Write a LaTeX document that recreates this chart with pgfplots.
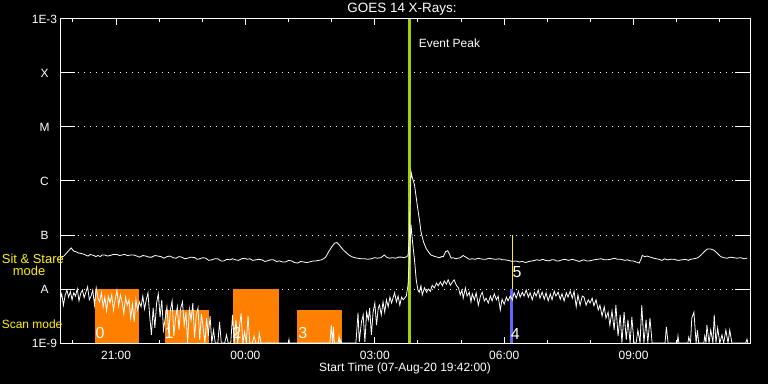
\documentclass[border=0pt]{standalone}
\usepackage{fontspec}
\setmainfont{Liberation Sans}
\usepackage{pgfplots}
\usepackage{pgfplotstable}
\pgfplotsset{compat=1.18}
\definecolor{scanorange}{RGB}{255,128,0}
\definecolor{peakgreen}{RGB}{160,210,0}
\definecolor{scanblue}{RGB}{100,100,255}

% long channel (hours since 00:00 on 07-Aug, log10 flux)
\pgfplotstableread{
h y
19.72 -7.41
19.79 -7.39
19.89 -7.30
19.96 -7.24
20.02 -7.30
20.07 -7.31
20.12 -7.33
20.18 -7.34
20.23 -7.35
20.29 -7.37
20.35 -7.39
20.40 -7.36
20.44 -7.37
20.49 -7.38
20.53 -7.40
20.58 -7.38
20.63 -7.40
20.68 -7.37
20.74 -7.37
20.80 -7.39
20.86 -7.38
20.94 -7.36
21.02 -7.36
21.08 -7.38
21.14 -7.37
21.20 -7.36
21.27 -7.38
21.34 -7.37
21.41 -7.37
21.48 -7.39
21.55 -7.41
21.62 -7.38
21.69 -7.39
21.76 -7.41
21.83 -7.41
21.90 -7.38
21.97 -7.39
22.04 -7.40
22.11 -7.43
22.18 -7.40
22.25 -7.39
22.32 -7.42
22.39 -7.43
22.46 -7.40
22.52 -7.41
22.59 -7.44
22.66 -7.43
22.74 -7.41
22.83 -7.42
22.88 -7.45
22.94 -7.44
23.01 -7.42
23.08 -7.43
23.15 -7.47
23.22 -7.46
23.29 -7.44
23.36 -7.44
23.43 -7.48
23.50 -7.48
23.57 -7.45
23.64 -7.46
23.70 -7.44
23.77 -7.46
23.84 -7.47
23.91 -7.44
23.98 -7.43
24.04 -7.45
24.10 -7.44
24.17 -7.47
24.24 -7.46
24.31 -7.45
24.38 -7.46
24.45 -7.49
24.51 -7.48
24.58 -7.46
24.65 -7.46
24.72 -7.49
24.79 -7.48
24.86 -7.50
24.93 -7.50
25.00 -7.47
25.07 -7.48
25.14 -7.51
25.21 -7.52
25.28 -7.49
25.35 -7.50
25.42 -7.51
25.49 -7.50
25.56 -7.48
25.63 -7.48
25.70 -7.47
25.76 -7.46
25.81 -7.44
25.86 -7.41
25.93 -7.31
26.00 -7.22
26.07 -7.15
26.12 -7.14
26.18 -7.19
26.25 -7.26
26.30 -7.30
26.34 -7.33
26.40 -7.37
26.46 -7.40
26.53 -7.42
26.60 -7.43
26.68 -7.44
26.76 -7.44
26.84 -7.45
26.92 -7.44
26.99 -7.42
27.06 -7.43
27.14 -7.42
27.19 -7.39
27.22 -7.37
27.27 -7.41
27.34 -7.43
27.41 -7.42
27.48 -7.43
27.55 -7.41
27.62 -7.41
27.68 -7.42
27.74 -7.40
27.77 -7.38
27.80 -7.05
27.82 -6.35
27.84 -5.83
27.87 -5.94
27.92 -6.07
27.99 -6.48
28.04 -6.75
28.07 -6.94
28.13 -7.13
28.19 -7.25
28.25 -7.32
28.30 -7.37
28.40 -7.40
28.50 -7.42
28.55 -7.40
28.59 -7.40
28.64 -7.31
28.69 -7.29
28.73 -7.35
28.77 -7.43
28.82 -7.42
28.87 -7.44
28.93 -7.43
28.98 -7.42
29.05 -7.38
29.11 -7.41
29.19 -7.45
29.26 -7.44
29.33 -7.45
29.39 -7.43
29.45 -7.44
29.52 -7.45
29.58 -7.45
29.64 -7.43
29.70 -7.44
29.80 -7.45
29.89 -7.44
29.96 -7.46
30.02 -7.46
30.10 -7.47
30.19 -7.49
30.27 -7.48
30.35 -7.50
30.42 -7.49
30.50 -7.51
30.57 -7.49
30.65 -7.48
30.71 -7.47
30.76 -7.46
30.83 -7.47
30.89 -7.45
30.96 -7.47
31.04 -7.48
31.10 -7.46
31.16 -7.46
31.22 -7.48
31.27 -7.48
31.34 -7.46
31.41 -7.45
31.49 -7.47
31.58 -7.45
31.66 -7.47
31.74 -7.49
31.80 -7.47
31.85 -7.46
31.91 -7.48
31.97 -7.48
32.03 -7.47
32.08 -7.46
32.16 -7.45
32.25 -7.44
32.32 -7.46
32.39 -7.46
32.47 -7.45
32.55 -7.43
32.63 -7.45
32.71 -7.45
32.79 -7.47
32.86 -7.46
32.93 -7.48
32.99 -7.48
33.06 -7.50
33.13 -7.52
33.17 -7.45
33.20 -7.38
33.26 -7.40
33.31 -7.39
33.39 -7.41
33.47 -7.43
33.53 -7.44
33.59 -7.45
33.66 -7.47
33.72 -7.44
33.78 -7.46
33.86 -7.45
33.94 -7.45
34.03 -7.47
34.12 -7.46
34.20 -7.45
34.27 -7.47
34.32 -7.45
34.40 -7.44
34.46 -7.43
34.51 -7.41
34.58 -7.36
34.65 -7.30
34.71 -7.26
34.79 -7.26
34.86 -7.28
34.93 -7.33
35.02 -7.40
35.09 -7.42
35.17 -7.43
35.25 -7.41
35.32 -7.42
35.40 -7.43
35.48 -7.42
35.56 -7.44
35.63 -7.43
}\longchan

% short channel
\pgfplotstableread{
h y
19.70 -8.20
19.74 -8.09
19.78 -8.30
19.82 -8.11
19.86 -8.02
19.90 -8.15
19.94 -8.05
19.98 -8.20
20.02 -8.07
20.06 -8.13
20.10 -8.00
20.14 -8.22
20.18 -8.08
20.22 -8.02
20.26 -8.16
20.30 -8.06
20.34 -7.96
20.38 -8.20
20.42 -8.13
20.46 -8.02
20.50 -8.30
20.54 -7.98
20.58 -8.17
20.62 -8.24
20.66 -8.07
20.70 -8.33
20.74 -8.15
20.78 -8.41
20.82 -8.13
20.86 -8.26
20.90 -8.11
20.94 -8.39
20.98 -8.19
21.02 -8.02
21.06 -8.31
21.10 -8.11
21.14 -8.24
21.18 -8.46
21.22 -8.15
21.26 -8.30
21.30 -8.20
21.34 -8.54
21.38 -8.28
21.42 -8.61
21.46 -8.20
21.50 -8.39
21.54 -8.24
21.58 -8.33
21.62 -8.13
21.66 -8.37
21.70 -8.20
21.74 -8.07
21.78 -8.50
21.82 -8.85
21.86 -8.35
21.90 -8.72
21.94 -8.26
21.98 -8.09
22.02 -8.52
22.06 -8.20
22.10 -8.76
22.14 -8.54
22.18 -8.33
22.22 -8.81
22.26 -8.39
22.30 -8.22
22.34 -8.87
22.38 -8.54
22.42 -8.33
22.46 -8.76
22.50 -8.35
22.54 -8.24
22.58 -8.67
22.62 -8.43
22.66 -9.00
22.70 -8.37
22.74 -8.57
22.78 -8.26
22.82 -8.91
22.86 -8.48
22.90 -8.35
22.94 -8.94
22.98 -8.46
23.02 -8.72
23.06 -9.00
23.10 -8.54
23.14 -8.87
23.18 -8.50
23.22 -9.00
23.26 -8.76
23.30 -9.00
23.36 -9.00
23.40 -8.61
23.44 -9.00
23.52 -9.00
23.56 -8.85
23.60 -9.00
23.66 -9.00
23.70 -8.48
23.74 -9.00
23.78 -8.57
23.82 -9.00
23.86 -8.70
23.90 -8.45
23.94 -9.00
23.98 -8.80
24.02 -9.00
24.06 -8.50
24.10 -9.00
24.16 -9.00
24.20 -8.87
24.24 -9.00
24.30 -9.00
24.32 -8.81
24.36 -9.00
25.00 -9.00
25.01 -8.94
25.02 -9.00
25.96 -9.00
25.99 -8.67
26.02 -9.00
26.04 -8.70
26.06 -9.00
26.15 -9.00
26.17 -8.88
26.19 -9.00
26.21 -8.94
26.23 -9.00
26.56 -9.00
26.58 -8.80
26.61 -8.44
26.64 -8.98
26.69 -8.61
26.73 -8.48
26.77 -8.98
26.81 -8.43
26.85 -8.57
26.88 -8.35
26.92 -8.85
26.96 -8.43
27.00 -8.26
27.04 -8.67
27.08 -8.35
27.11 -8.30
27.15 -8.48
27.19 -8.24
27.23 -8.43
27.27 -8.20
27.31 -8.33
27.35 -8.15
27.39 -8.26
27.42 -8.17
27.46 -8.07
27.50 -8.24
27.54 -8.13
27.58 -8.30
27.62 -8.15
27.66 -8.20
27.69 -8.17
27.73 -8.13
27.77 -7.93
27.84 -6.81
27.87 -7.09
27.92 -7.46
27.96 -7.83
28.00 -8.02
28.03 -8.06
28.07 -7.94
28.10 -8.11
28.15 -7.98
28.20 -8.06
28.24 -8.00
28.29 -8.04
28.33 -7.93
28.38 -7.98
28.43 -7.89
28.47 -7.94
28.52 -7.87
28.57 -7.94
28.61 -7.85
28.66 -7.91
28.70 -7.83
28.75 -7.93
28.80 -7.87
28.84 -7.83
28.89 -7.93
28.94 -7.98
28.98 -8.11
29.02 -8.02
29.05 -8.17
29.10 -7.98
29.14 -8.13
29.19 -8.06
29.23 -8.24
29.26 -8.09
29.31 -8.20
29.35 -8.07
29.40 -8.30
29.45 -8.13
29.49 -8.06
29.54 -8.22
29.58 -8.17
29.63 -8.26
29.68 -8.13
29.72 -8.22
29.77 -8.09
29.82 -8.20
29.86 -8.13
29.91 -8.39
29.95 -8.19
30.00 -8.28
30.05 -8.15
30.09 -8.22
30.14 -8.13
30.19 -8.20
30.23 -8.07
30.28 -8.17
30.33 -8.04
30.37 -8.15
30.42 -8.06
30.46 -8.13
30.51 -8.02
30.56 -8.15
30.60 -8.07
30.65 -8.20
30.70 -8.06
30.74 -8.13
30.79 -8.02
30.83 -8.17
30.88 -8.06
30.93 -8.19
30.97 -8.07
31.02 -8.22
31.07 -8.09
31.11 -8.20
31.16 -8.04
31.20 -8.13
31.25 -8.06
31.30 -8.19
31.34 -8.09
31.39 -8.22
31.44 -8.07
31.48 -8.15
31.53 -8.04
31.58 -8.17
31.62 -8.04
31.67 -8.33
31.71 -8.11
31.76 -8.30
31.81 -8.13
31.85 -8.15
31.90 -8.30
31.95 -8.20
31.99 -8.26
32.04 -8.17
32.08 -8.31
32.13 -8.20
32.18 -8.39
32.22 -8.30
32.27 -8.50
32.32 -8.33
32.36 -8.54
32.41 -8.43
32.45 -8.67
32.50 -8.41
32.55 -8.76
32.59 -8.30
32.64 -8.87
32.69 -8.48
32.73 -9.00
32.78 -8.43
32.83 -8.94
32.87 -8.57
32.92 -9.00
32.96 -8.52
33.01 -9.00
33.06 -9.00
33.10 -8.76
33.15 -9.00
33.19 -8.30
33.24 -9.00
33.29 -8.57
33.33 -9.00
33.38 -8.54
33.43 -9.00
33.73 -9.00
33.76 -8.70
33.80 -9.00
34.01 -9.00
34.03 -8.87
34.05 -9.00
34.26 -9.00
34.28 -8.89
34.32 -9.00
34.35 -8.54
34.40 -8.43
34.45 -9.00
34.48 -8.76
34.51 -9.00
34.63 -9.00
34.65 -8.87
34.68 -9.00
34.70 -8.67
34.75 -9.00
34.79 -8.76
34.84 -9.00
34.87 -8.48
34.91 -9.00
34.95 -8.72
35.00 -9.00
35.05 -8.85
35.09 -9.00
35.14 -8.76
35.19 -9.00
35.23 -8.76
35.28 -9.00
35.60 -9.00
35.63 -8.93
35.65 -9.00
}\shortchan

\begin{document}
\begin{tikzpicture}[x=1bp,y=1bp]
\path[use as bounding box, fill=black] (0,0) rectangle (768,384);
\begin{axis}[
  at={(60bp,41bp)}, anchor=south west,
  width=690bp, height=324bp, scale only axis,
  xmin=19.7, xmax=35.7, ymin=-9, ymax=-3,
  axis line style={white, line width=1bp},
  xtick={21,24,27,30,33},
  xticklabels={21:00,00:00,03:00,06:00,09:00},
  minor xtick={20,22,23,25,26,28,29,31,32,34,35},
  ytick={-9,-8,-7,-6,-5,-4,-3},
  yticklabels={1E-9,A,B,C,M,X,1E-3},
  tick style={white, line width=1bp},
  major tick length=6bp, minor tick length=3.5bp,
  tick align=inside, tick pos=both,
  ymajorgrids,
  grid style={white, line width=1bp, dash pattern=on 1bp off 5bp},
  tick label style={text=white, font=\fontsize{12}{14}\selectfont},
  xticklabel style={anchor=center, yshift=-12bp},
  yticklabel style={anchor=center, xshift=-15.5bp},
  clip=true,
]
% long solid y tick marks at each decade, both sides
\addplot[white, line width=1bp] coordinates {(19.70,-8) (20.05,-8)};
\addplot[white, line width=1bp] coordinates {(19.70,-7) (20.05,-7)};
\addplot[white, line width=1bp] coordinates {(19.70,-6) (20.05,-6)};
\addplot[white, line width=1bp] coordinates {(19.70,-5) (20.05,-5)};
\addplot[white, line width=1bp] coordinates {(19.70,-4) (20.05,-4)};
\addplot[white, line width=1bp] coordinates {(35.35,-8) (35.70,-8)};
\addplot[white, line width=1bp] coordinates {(35.35,-7) (35.70,-7)};
\addplot[white, line width=1bp] coordinates {(35.35,-6) (35.70,-6)};
\addplot[white, line width=1bp] coordinates {(35.35,-5) (35.70,-5)};
\addplot[white, line width=1bp] coordinates {(35.35,-4) (35.70,-4)};
% scan intervals
\addplot[fill=scanorange, draw=none] coordinates {(20.51,-9) (20.51,-8) (21.54,-8) (21.54,-9)} -- cycle;
\addplot[fill=scanorange, draw=none] coordinates {(22.13,-9) (22.13,-8.39) (23.16,-8.39) (23.16,-9)} -- cycle;
\addplot[fill=scanorange, draw=none] coordinates {(23.70,-9) (23.70,-8) (24.77,-8) (24.77,-9)} -- cycle;
\addplot[fill=scanorange, draw=none] coordinates {(25.20,-9) (25.20,-8.39) (26.24,-8.39) (26.24,-9)} -- cycle;
\addplot[fill=scanblue, draw=none] coordinates {(30.13,-9) (30.13,-8) (30.20,-8) (30.20,-9)} -- cycle;
\addplot[yellow, line width=1bp] coordinates {(30.20,-8) (30.20,-7)};
% event peak
\addplot[peakgreen, line width=2.5bp] coordinates {(27.80,-9) (27.80,-3)};
% data
\addplot[white, line width=0.8bp] table[x=h,y=y] {\longchan};
\addplot[white, line width=0.8bp] table[x=h,y=y] {\shortchan};
% labels
\node[text=white, font=\fontsize{16}{18}\selectfont] at (axis cs:20.63,-8.81) {0};
\node[text=white, font=\fontsize{16}{18}\selectfont] at (axis cs:22.23,-8.81) {1};
\node[text=white, font=\fontsize{16}{18}\selectfont] at (axis cs:23.80,-8.81) {2};
\node[text=white, font=\fontsize{16}{18}\selectfont] at (axis cs:25.33,-8.81) {3};
\node[text=white, font=\fontsize{16}{18}\selectfont] at (axis cs:30.26,-8.83) {4};
\node[text=white, font=\fontsize{16}{18}\selectfont] at (axis cs:30.30,-7.69) {5};
\node[text=white, font=\fontsize{12}{14}\selectfont] at (axis cs:28.73,-3.44) {Event Peak};
\end{axis}
\node[text=white, font=\fontsize{13.5}{16}\selectfont] at (402,374.5) {GOES 14 X-Rays:};
\node[text=white, font=\fontsize{12}{14}\selectfont] at (405,16) {Start Time (07-Aug-20 19:42:00)};
\node[text=yellow, font=\fontsize{13}{15}\selectfont, anchor=west, inner sep=0pt] at (1.7,125.5) {Sit \& Stare};
\node[text=yellow, font=\fontsize{13}{15}\selectfont, anchor=west, inner sep=0pt] at (12.7,113) {mode};
\node[text=yellow, font=\fontsize{12}{14}\selectfont, anchor=west, inner sep=0pt] at (1.7,60) {Scan mode};
\end{tikzpicture}
\end{document}
